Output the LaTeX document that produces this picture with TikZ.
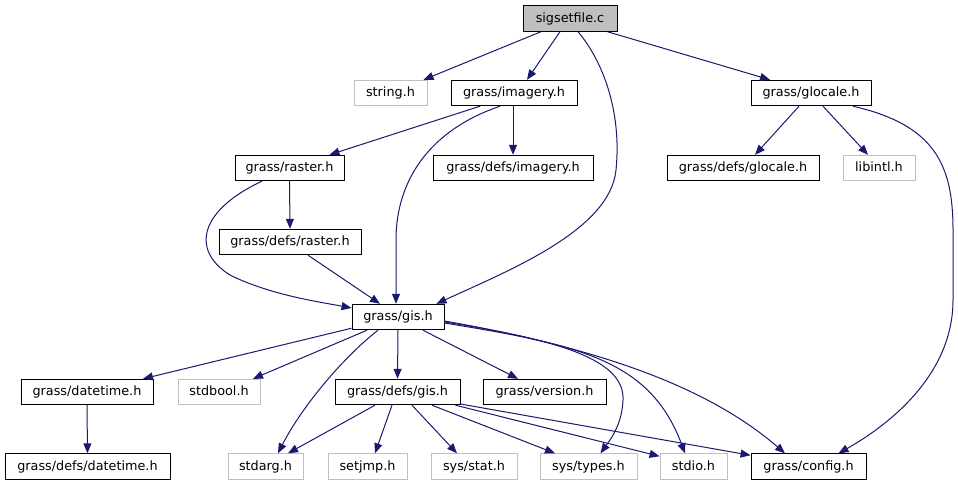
\documentclass[tikz,border=0pt]{standalone}
\usepackage{fontspec}
\setmainfont{DejaVu Sans}
\usetikzlibrary{arrows.meta,calc}
\definecolor{navy}{HTML}{191970}
\definecolor{lgray}{HTML}{BFBFBF}
\begin{document}
\begin{tikzpicture}[x=1pt,y=-1pt,
  box/.style={draw=black, line width=0.9pt, fill=white, inner sep=0pt, minimum height=25.5pt,
    text height=9.6pt, text depth=2.6pt, font=\fontsize{12.8}{14}\selectfont},
  gbox/.style={box, draw=lgray},
  edge/.style={draw=navy, line width=1pt, -{Triangle[length=10pt,width=8pt]}},
]
\useasboundingbox[fill=white] (0,0) rectangle (958,485);
% nodes
\node[box, fill=lgray, minimum width=94pt] (sig) at (570,18.5) {sigsetfile.c};
\node[gbox, minimum width=73pt] (string) at (390.5,93) {string.h};
\node[box, minimum width=126pt] (imagery) at (514,93) {grass/imagery.h};
\node[box, minimum width=120pt] (glocale) at (811,93) {grass/glocale.h};
\node[box, minimum width=160pt] (defsimagery) at (513,168) {grass/defs/imagery.h};
\node[box, minimum width=109pt] (raster) at (289.5,168) {grass/raster.h};
\node[box, minimum width=152pt] (defsglocale) at (743,168) {grass/defs/glocale.h};
\node[gbox, minimum width=72pt] (libintl) at (879,168) {libintl.h};
\node[box, minimum width=142pt] (defsraster) at (290,242) {grass/defs/raster.h};
\node[box, minimum width=92pt] (gis) at (398,317) {grass/gis.h};
\node[box, minimum width=132pt] (datetime) at (87,392) {grass/datetime.h};
\node[gbox, minimum width=82pt] (stdbool) at (219,392) {stdbool.h};
\node[box, minimum width=125pt] (defsgis) at (397.5,392) {grass/defs/gis.h};
\node[box, minimum width=123pt] (version) at (544.5,392) {grass/version.h};
\node[box, minimum width=165pt] (defsdatetime) at (87.5,466.5) {grass/defs/datetime.h};
\node[gbox, minimum width=75pt] (stdarg) at (265.5,466.5) {stdarg.h};
\node[gbox, minimum width=79pt] (setjmp) at (367.5,466.5) {setjmp.h};
\node[gbox, minimum width=86pt] (sysstat) at (474,466.5) {sys/stat.h};
\node[gbox, minimum width=97pt] (systypes) at (588.5,466.5) {sys/types.h};
\node[gbox, minimum width=67pt] (stdio) at (693.5,466.5) {stdio.h};
\node[box, minimum width=115pt] (config) at (808.5,466.5) {grass/config.h};
% edges
\draw[edge] ($(sig.south)+(-29,0)$) -- ($(string.north)+(33,0)$);
\draw[edge] ($(sig.south)+(-10,0)$) -- ($(imagery.north)+(13,0)$);
\draw[edge] ($(sig.south)+(8,0)$) .. controls (602,60) and (622,110) .. (616,170)
  .. controls (610,230) and (510,270) .. ($(gis.north east)+(-8,0)$);
\draw[edge] ($(sig.south east)+(-10,0)$) -- ($(glocale.north)+(-41,0)$);
\draw[edge] ($(imagery.south)+(-34,0)$) -- ($(raster.north)+(40,0)$);
\draw[edge] ($(imagery.south)+(-14,0)$) .. controls (430,130) and (396,180) .. (396,240) -- ($(gis.north)+(-2,0)$);
\draw[edge] ($(imagery.south)+(-1,0)$) -- (defsimagery.north);
\draw[edge] ($(glocale.south)+(-12,0)$) -- ($(defsglocale.north)+(12,0)$);
\draw[edge] ($(glocale.south)+(12,0)$) -- ($(libintl.north)+(-11,0)$);
\draw[edge] ($(glocale.south)+(42,0)$) .. controls (935,125) and (953,165) .. (953,230) -- (953,300)
  .. controls (953,380) and (880,430) .. ($(config.north)+(30,0)$);
\draw[edge] (raster.south) -- (defsraster.north);
\draw[edge] ($(raster.south)+(-27.5,0)$) .. controls (200,210) and (190,250) .. (230,275)
  .. controls (270,295) and (320,302) .. ($(gis.west)+(0,-9)$);
\draw[edge] ($(defsraster.south)+(18,0)$) -- ($(gis.north)+(-18,0)$);
\draw[edge] ($(gis.south west)+(0,-2)$) -- ($(datetime.north)+(56,0)$);
\draw[edge] ($(gis.south)+(-31,0)$) -- ($(stdbool.north)+(34,0)$);
\draw[edge] ($(gis.south)+(-20,0)$) .. controls (340,360) and (300,410) .. ($(stdarg.north)+(12.5,0)$);
\draw[edge] (gis.south) -- (defsgis.north);
\draw[edge] ($(gis.south)+(25,0)$) -- ($(version.north)+(-26.5,0)$);
\draw[edge] ($(gis.east)+(0,5)$) .. controls (560,340) and (625,360) .. (623,400)
  .. controls (622,425) and (610,440) .. ($(systypes.north)+(12,0)$);
\draw[edge] ($(gis.east)+(0,6)$) .. controls (580,345) and (650,360) .. ($(stdio.north)+(-8.5,0)$);
\draw[edge] ($(gis.east)+(0,4)$) .. controls (580,345) and (700,380) .. ($(config.north)+(-23.5,0)$);
\draw[edge] (datetime.south) -- (defsdatetime.north);
\draw[edge] ($(defsgis.south)+(-22.5,0)$) -- ($(stdarg.north)+(22.5,0)$);
\draw[edge] ($(defsgis.south)+(-5.5,0)$) -- ($(setjmp.north)+(7.5,0)$);
\draw[edge] ($(defsgis.south)+(14.5,0)$) -- ($(sysstat.north)+(-17,0)$);
\draw[edge] ($(defsgis.south)+(34.5,0)$) -- ($(systypes.north)+(-33.5,0)$);
\draw[edge] ($(defsgis.south east)+(-5,0)$) -- ($(stdio.north west)+(0,3)$);
\draw[edge] ($(defsgis.east)+(0,12)$) -- ($(config.north west)+(0,2)$);
\end{tikzpicture}
\end{document}
